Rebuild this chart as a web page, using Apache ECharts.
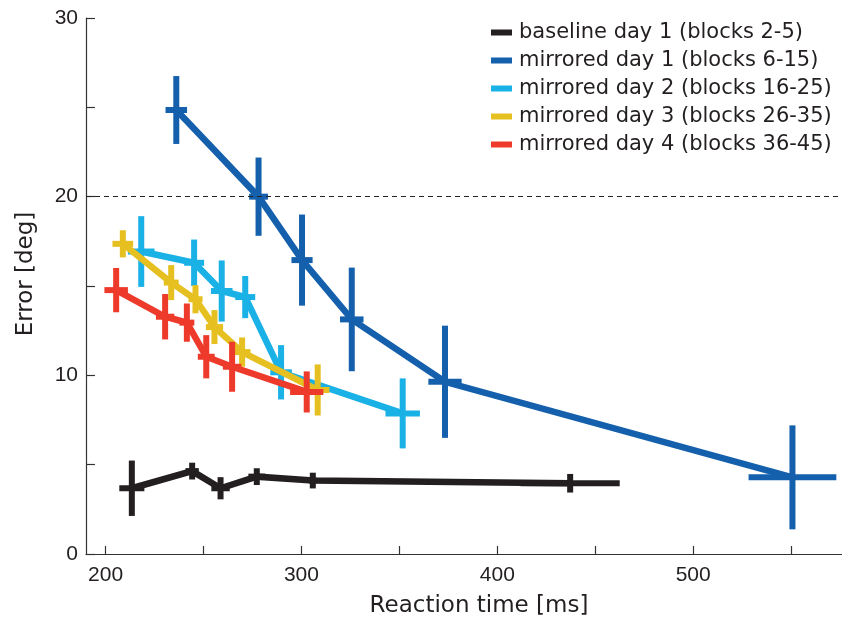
<!DOCTYPE html>
<html>
<head>
<meta charset="utf-8">
<script src="https://cdn.jsdelivr.net/npm/echarts@6/dist/echarts.min.js"></script>
<style>
  html, body { margin: 0; padding: 0; background: #fff; }
  #chart { width: 842px; height: 622px; }
</style>
</head>
<body>
<div id="chart"></div>
<script>
// Group labels and colours
const groupNames = [
  'baseline day 1 (blocks 2-5)',
  'mirrored day 1 (blocks 6-15)',
  'mirrored day 2 (blocks 16-25)',
  'mirrored day 3 (blocks 26-35)',
  'mirrored day 4 (blocks 36-45)'
];
const groupColors = ['#231f20', '#1560ac', '#1ab1e6', '#e5c020', '#ee3a2b'];

// Mean reaction time [ms] and its error, mean error [deg] and its error
const baselineRT     = [213.4, 244.2, 258.7, 277.2, 305.8, 437.2];
const baselineRTErr  = [6.4, 3.4, 4.7, 4.3, 2.0, 25.3];
const baselineErr    = [3.68, 4.64, 3.68, 4.33, 4.11, 3.96];
const baselineErrErr = [1.55, 0.47, 0.62, 0.47, 0.44, 0.52];

const day1RT     = [236.1, 278.1, 300.3, 325.7, 373.3, 550.7];
const day1RTErr  = [5.5, 4.8, 5.4, 6.0, 8.5, 22.4];
const day1Err    = [24.85, 20.0, 16.45, 13.13, 9.64, 4.29];
const day1ErrErr = [1.9, 2.19, 2.55, 2.9, 3.14, 2.91];

const day2RT     = [218.2, 245.2, 259.3, 271.3, 289.6, 351.7];
const day2RTErr  = [6.8, 5.1, 5.5, 5.1, 5.5, 8.8];
const day2Err    = [16.93, 16.30, 14.72, 14.38, 10.17, 7.87];
const day2ErrErr = [1.98, 1.3, 1.71, 1.18, 1.52, 1.96];

const day3RT     = [208.8, 233.5, 245.9, 255.6, 269.7, 308.3];
const day3RTErr  = [5.3, 3.8, 3.6, 4.4, 4.3, 6.0];
const day3Err    = [17.36, 15.19, 14.26, 12.70, 11.30, 9.18];
const day3ErrErr = [0.76, 0.98, 0.79, 0.95, 0.82, 1.43];

const day4RT     = [205.4, 230.4, 241.5, 251.4, 264.6, 302.7];
const day4RTErr  = [6.0, 4.7, 3.8, 4.3, 4.7, 8.5];
const day4Err    = [14.77, 13.28, 12.95, 11.04, 10.48, 9.07];
const day4ErrErr = [1.24, 1.27, 1.07, 1.21, 1.40, 1.15];

// Axis ticks and labels
const xTickValues  = [200, 250, 300, 350, 400, 450, 500, 550];
const xLabelValues = [200, 300, 400, 500];
const yTickValues  = [0, 5, 10, 15, 20, 25, 30];
const yLabelValues = [0, 10, 20, 30];
const chanceLevel  = 20;

const groups = [
  [baselineRT, baselineRTErr, baselineErr, baselineErrErr],
  [day1RT, day1RTErr, day1Err, day1ErrErr],
  [day2RT, day2RTErr, day2Err, day2ErrErr],
  [day3RT, day3RTErr, day3Err, day3ErrErr],
  [day4RT, day4RTErr, day4Err, day4ErrErr]
];

const textColor = '#231f20';
const axisColor = '#333333';

// Cross-shaped error bars: horizontal = RT error, vertical = angular error
function renderCross(params, api) {
  const x = api.value(0), y = api.value(1);
  const ex = api.value(2), ey = api.value(3);
  const l = api.coord([x - ex, y]), r = api.coord([x + ex, y]);
  const t = api.coord([x, y + ey]), b = api.coord([x, y - ey]);
  const style = { stroke: api.visual('color'), lineWidth: 6, fill: null, lineCap: 'butt' };
  return {
    type: 'group',
    children: [
      { type: 'line', shape: { x1: l[0], y1: l[1], x2: r[0], y2: r[1] }, style: style },
      { type: 'line', shape: { x1: t[0], y1: t[1], x2: b[0], y2: b[1] }, style: style }
    ]
  };
}

const series = [];
groups.forEach(function (g, i) {
  const rt = g[0], rtErr = g[1], err = g[2], errErr = g[3];
  series.push({
    name: groupNames[i],
    type: 'line',
    data: rt.map(function (v, k) { return [v, err[k]]; }),
    symbol: 'none',
    color: groupColors[i],
    lineStyle: { width: 6.5, color: groupColors[i], join: 'miter' },
    z: 2 + i,
    silent: true,
    animation: false,
    markLine: i === 0 ? {
      silent: true,
      symbol: 'none',
      label: { show: false },
      lineStyle: { type: [5, 4], color: '#222', width: 1 },
      data: [{ yAxis: chanceLevel }],
      animation: false
    } : undefined
  });
  series.push({
    name: groupNames[i],
    type: 'custom',
    renderItem: renderCross,
    data: rt.map(function (v, k) { return [v, err[k], rtErr[k], errErr[k]]; }),
    encode: { x: 0, y: 1 },
    color: groupColors[i],
    itemStyle: { color: groupColors[i] },
    z: 2 + i,
    silent: true,
    animation: false
  });
});

const chart = echarts.init(document.getElementById('chart'), null, { renderer: 'canvas' });
chart.setOption({
  backgroundColor: '#ffffff',
  animation: false,
  grid: { left: 86, top: 18, width: 756, height: 536, containLabel: false, outerBoundsMode: 'none' },
  legend: {
    data: groupNames,
    orient: 'vertical',
    left: 486,
    top: 17,
    itemWidth: 21,
    itemHeight: 6,
    itemGap: 7,
    icon: 'rect',
    selectedMode: false,
    textStyle: { fontFamily: 'DejaVu Sans', fontSize: 21, color: textColor, padding: [0, 0, 0, 2] }
  },
  xAxis: {
    type: 'value',
    min: 190,
    max: 576,
    axisLine: { show: true, onZero: false, lineStyle: { color: axisColor, width: 1.2 } },
    axisTick: { show: true, inside: true, length: 8, customValues: xTickValues, lineStyle: { color: axisColor, width: 1.2 } },
    axisLabel: { customValues: xLabelValues, fontFamily: 'Liberation Sans', fontSize: 21, color: textColor, margin: 11 },
    splitLine: { show: false },
    name: 'Reaction time [ms]',
    nameLocation: 'middle',
    nameGap: 41,
    nameTextStyle: { fontFamily: 'DejaVu Sans', fontSize: 23, color: textColor, padding: [0, 0, 0, 30] }
  },
  yAxis: {
    type: 'value',
    min: 0,
    max: 30,
    axisLine: { show: true, onZero: false, lineStyle: { color: axisColor, width: 1.2 } },
    axisTick: { show: true, inside: true, length: 9, customValues: yTickValues, lineStyle: { color: axisColor, width: 1.2 } },
    axisLabel: { customValues: yLabelValues, fontFamily: 'Liberation Sans', fontSize: 21, color: textColor, margin: 8 },
    splitLine: { show: false },
    name: 'Error [deg]',
    nameLocation: 'middle',
    nameGap: 48,
    nameTextStyle: { fontFamily: 'DejaVu Sans', fontSize: 23, color: textColor, padding: [0, 0, 0, 24] }
  },
  series: series
});
</script>
</body>
</html>
